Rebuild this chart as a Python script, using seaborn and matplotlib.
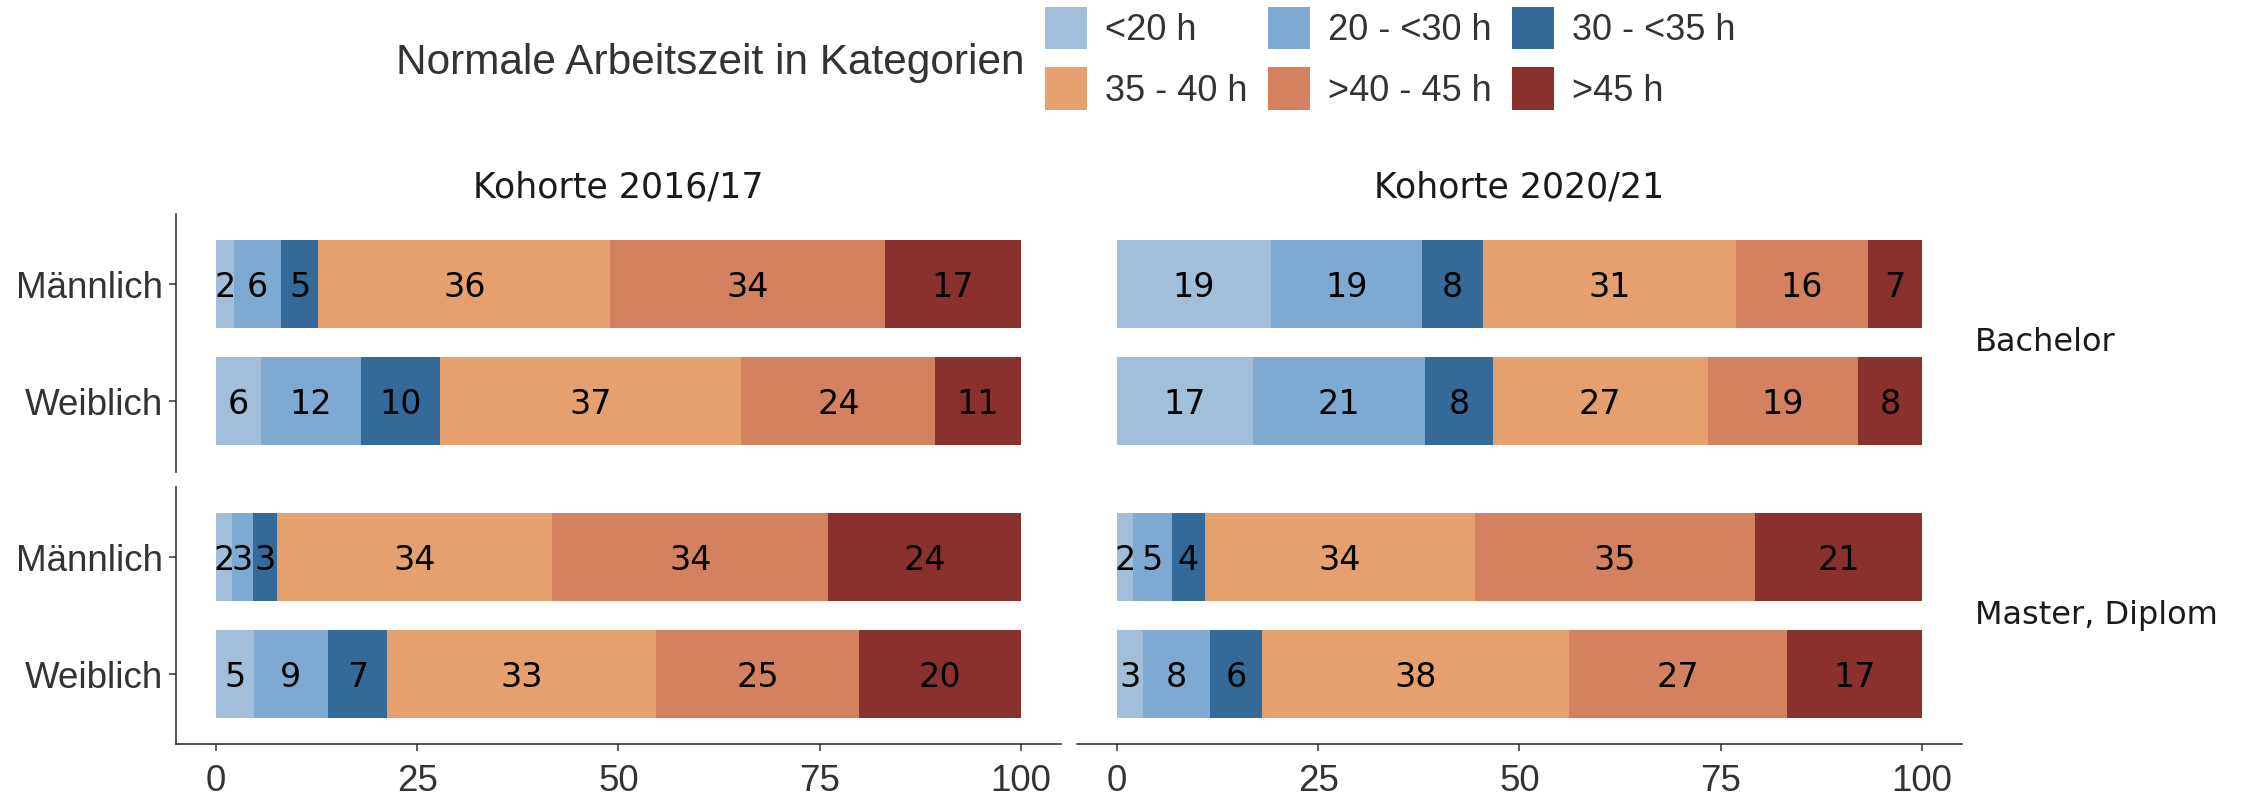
import matplotlib
matplotlib.use("Agg")
import matplotlib.pyplot as plt
from matplotlib.patches import Patch
import pandas as pd
import seaborn as sns

# ---------------- data ----------------
categories = ["<20 h", "20 - <30 h", "30 - <35 h", "35 - 40 h", ">40 - 45 h", ">45 h"]
colors = ["#a1bedb", "#7eaad2", "#336a97", "#e5a06e", "#d3815f", "#8a312d"]
genders = ["Männlich", "Weiblich"]
cohorts = ["Kohorte 2016/17", "Kohorte 2020/21"]
degrees = ["Bachelor", "Master, Diplom"]

bachelor_2016_m = [2.2, 5.9, 4.6, 36.3, 34.1, 16.9]
bachelor_2016_w = [5.6, 12.4, 9.9, 37.4, 24.1, 10.6]
master_2016_m = [2.0, 2.6, 3.0, 34.2, 34.3, 23.9]
master_2016_w = [4.7, 9.2, 7.4, 33.4, 25.2, 20.1]
bachelor_2020_m = [19.1, 18.8, 7.6, 31.4, 16.4, 6.7]
bachelor_2020_w = [16.9, 21.4, 8.4, 26.7, 18.7, 7.9]
master_2020_m = [2.0, 4.8, 4.1, 33.6, 34.8, 20.7]
master_2020_w = [3.2, 8.4, 6.4, 38.2, 27.0, 16.8]

x_ticks = [0, 25, 50, 75, 100]

panels = {
    ("Bachelor", "Kohorte 2016/17"): (bachelor_2016_m, bachelor_2016_w),
    ("Bachelor", "Kohorte 2020/21"): (bachelor_2020_m, bachelor_2020_w),
    ("Master, Diplom", "Kohorte 2016/17"): (master_2016_m, master_2016_w),
    ("Master, Diplom", "Kohorte 2020/21"): (master_2020_m, master_2020_w),
}

rows = []
for (deg, coh), series in panels.items():
    for g, vals in zip(genders, series):
        for cat, v in zip(categories, vals):
            rows.append(dict(degree=deg, cohort=coh, gender=g, category=cat, value=v))
df = pd.DataFrame(rows)
df["cum"] = df.groupby(["degree", "cohort", "gender"])["value"].cumsum()
df["mid"] = df["cum"] - df["value"] / 2

# ---------------- style ----------------
sns.set_style("ticks")
plt.rcParams["font.family"] = ["DejaVu Sans"]
TXT = "#333333"

W, H = 2241, 797
fig = plt.figure(figsize=(W / 100, H / 100), dpi=100)

col_x = [175.7, 1076.7]
col_w = 885.3
row_top = [214.0, 486.8]
row_h = 257.5


def fx(px):
    return px / W


def fy(py):
    return 1 - py / H


for r, deg in enumerate(degrees):
    for c, coh in enumerate(cohorts):
        ax = fig.add_axes([fx(col_x[c]), fy(row_top[r] + row_h), fx(col_w), row_h / H])
        sub = df[(df.degree == deg) & (df.cohort == coh)]
        for i in reversed(range(len(categories))):
            part = sub[sub.category == categories[i]]
            sns.barplot(data=part, x="cum", y="gender", order=genders, orient="h",
                        color=colors[i], saturation=1, width=0.75, errorbar=None,
                        linewidth=0, ax=ax)
        for _, rw in sub.iterrows():
            ax.text(rw["mid"], genders.index(rw["gender"]), f"{rw['value']:.0f}",
                    ha="center", va="center_baseline", fontsize=24, color="black",
                    family="DejaVu Sans")
        ax.set_xlim(-5, 105)
        ax.set_ylim(1.6, -0.6)
        ax.set_xlabel("")
        ax.set_ylabel("")
        ax.set_xticks(x_ticks)
        ax.set_xticklabels([str(t) for t in x_ticks])
        for s in ["top", "right"]:
            ax.spines[s].set_visible(False)
        for s in ["left", "bottom"]:
            ax.spines[s].set_color("#222222")
            ax.spines[s].set_linewidth(1.1)
        ax.tick_params(axis="both", direction="out", length=5, width=1.1, colors="#333333",
                       labelcolor=TXT, labelsize=26.5)
        ax.tick_params(axis="x", pad=9.5)
        ax.tick_params(axis="y", pad=4)
        for lab in ax.get_xticklabels() + ax.get_yticklabels():
            lab.set_family("Liberation Sans")
        if r == 0:
            ax.spines["bottom"].set_visible(False)
            ax.tick_params(axis="x", bottom=False, labelbottom=False)
        if c == 1:
            ax.spines["left"].set_visible(False)
            ax.tick_params(axis="y", left=False, labelleft=False)
        ax.set_facecolor("white")

# column titles
for c, coh in enumerate(cohorts):
    fig.text(fx(col_x[c] + col_w / 2), fy(197.7), coh, ha="center", va="baseline",
             fontsize=25, color="#1a1a1a", family="DejaVu Sans")

# row strip labels
for r, deg in enumerate(degrees):
    fig.text(fx(1975), fy(row_top[r] + row_h / 2), deg, ha="left", va="center",
             fontsize=23, color="#1a1a1a", family="DejaVu Sans")

# legend
LFS = 26
order = [0, 3, 1, 4, 2, 5]
handles = [Patch(facecolor=colors[i], edgecolor="none") for i in order]
labels = [categories[i] for i in order]
fig.legend(handles, labels, ncol=3, loc="upper left",
           bbox_to_anchor=(fx(1045), fy(6.7)), bbox_transform=fig.transFigure,
           frameon=False, borderpad=0, borderaxespad=0,
           handlelength=1.155, handleheight=1.443, handletextpad=0.51,
           labelspacing=0.496, columnspacing=0.56, labelcolor=TXT,
           prop={"family": "Liberation Sans", "size": LFS})
fig.text(fx(1025), fy(58.4), "Normale Arbeitszeit in Kategorien", ha="right",
         va="center_baseline", fontsize=30.5, color=TXT, family="Liberation Sans")

fig.savefig("out.png", dpi=100, facecolor="white")
